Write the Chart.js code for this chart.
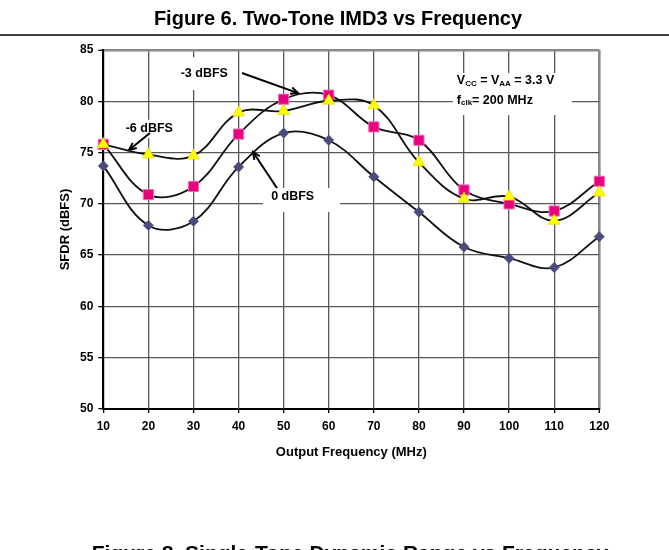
<!DOCTYPE html>
<html><head><meta charset="utf-8">
<script src="https://cdn.jsdelivr.net/npm/chart.js@4/dist/chart.umd.min.js"></script>
<style>html,body{margin:0;padding:0;background:#fff;overflow:hidden}canvas{display:block}</style>
</head><body>
<canvas id="c" width="669" height="550"></canvas>
<script>
// ---- data ----
const frequencies = [10, 20, 30, 40, 50, 60, 70, 80, 90, 100, 110, 120];
const sfdrMinus6dBFS = [75.8, 74.8, 74.7, 78.9, 79.05, 80.05, 79.6, 74.05, 70.5, 70.7, 68.35, 71.1];
const sfdrMinus3dBFS = [75.8, 70.9, 71.7, 76.8, 80.2, 80.6, 77.5, 76.2, 71.35, 70.0, 69.3, 72.2];
const sfdr0dBFS = [73.7, 67.9, 68.3, 73.6, 76.9, 76.2, 72.65, 69.2, 65.8, 64.7, 63.8, 66.8];
const seriesLabels = ['-6 dBFS', '-3 dBFS', '0 dBFS'];
const xTickValues = [10, 20, 30, 40, 50, 60, 70, 80, 90, 100, 110, 120];
const yTickValues = [50, 55, 60, 65, 70, 75, 80, 85];
const chartTitle = 'Figure 6. Two-Tone IMD3 vs Frequency';
const nextCaption = 'Figure 8. Single-Tone Dynamic Range vs Frequency';
const xAxisTitle = 'Output Frequency (MHz)';
const yAxisTitle = 'SFDR (dBFS)';

const FONT = '"Liberation Sans", Arial, Helvetica, sans-serif';

function pts(vals) { return frequencies.map((f, i) => ({ x: f, y: vals[i] })); }

// callouts in data coordinates
const callouts = [
  { text: '-3 dBFS', cx: 32.4, cy: 82.66, box: [24.6, 39.4, 84.3, 81.1], arrow: [40.75, 82.76, 53.2, 80.8] },
  { text: '-6 dBFS', cx: 20.2, cy: 77.3, box: [14.2, 26.1, 78.2, 76.4], arrow: [20.35, 76.9, 15.7, 75.25] },
  { text: '0 dBFS', cx: 52.0, cy: 70.67, box: [45.4, 62.5, 71.55, 69.2], arrow: [48.5, 71.55, 43.2, 75.06] }
];
const condBox = [87.5, 113.9, 82.76, 78.66];
const condX = 88.4, condY1 = 81.98, condY2 = 80.1;

function arrow(ctx, x0, y0, x1, y1) {
  ctx.beginPath(); ctx.moveTo(x0, y0); ctx.lineTo(x1, y1); ctx.stroke();
  const a = Math.atan2(y1 - y0, x1 - x0), L = 8, s = 0.42;
  ctx.beginPath();
  ctx.moveTo(x1 - L * Math.cos(a - s), y1 - L * Math.sin(a - s));
  ctx.lineTo(x1, y1);
  ctx.lineTo(x1 - L * Math.cos(a + s), y1 - L * Math.sin(a + s));
  ctx.stroke();
}

function subText(ctx, parts, x, y) {
  let cx = x;
  parts.forEach(p => {
    ctx.font = 'bold ' + (p.sub ? 8 : 12.5) + 'px ' + FONT;
    ctx.fillText(p.t, cx, y + (p.sub ? 3 : 0));
    cx += ctx.measureText(p.t).width;
  });
}

const decor = {
  id: 'decor',
  beforeDatasetsDraw(chart) {
    const { ctx } = chart; const X = chart.scales.x, Y = chart.scales.y;
    ctx.save();
    ctx.fillStyle = '#fff';
    callouts.forEach(c => {
      const b = c.box, x0 = X.getPixelForValue(b[0]), x1 = X.getPixelForValue(b[1]);
      const y0 = Y.getPixelForValue(b[2]), y1 = Y.getPixelForValue(b[3]);
      ctx.fillRect(x0, y0, x1 - x0, y1 - y0);
    });
    {
      const x0 = X.getPixelForValue(condBox[0]), x1 = X.getPixelForValue(condBox[1]);
      const y0 = Y.getPixelForValue(condBox[2]), y1 = Y.getPixelForValue(condBox[3]);
      ctx.fillRect(x0, y0, x1 - x0, y1 - y0);
    }
    ctx.fillStyle = '#000'; ctx.strokeStyle = '#000'; ctx.lineWidth = 2;
    ctx.textAlign = 'center'; ctx.textBaseline = 'middle';
    ctx.font = 'bold 12.5px ' + FONT;
    callouts.forEach(c => {
      ctx.fillText(c.text, X.getPixelForValue(c.cx), Y.getPixelForValue(c.cy));
      const a = c.arrow;
      arrow(ctx, X.getPixelForValue(a[0]), Y.getPixelForValue(a[1]), X.getPixelForValue(a[2]), Y.getPixelForValue(a[3]));
    });
    ctx.textAlign = 'left';
    const cx = X.getPixelForValue(condX);
    subText(ctx, [{ t: 'V' }, { t: 'CC', sub: 1 }, { t: ' = V' }, { t: 'AA', sub: 1 }, { t: ' = 3.3 V' }], cx, Y.getPixelForValue(condY1));
    subText(ctx, [{ t: 'f' }, { t: 'clk', sub: 1 }, { t: '= 200 MHz' }], cx, Y.getPixelForValue(condY2));
    ctx.restore();
  },
  afterDraw(chart) {
    const { ctx } = chart;
    ctx.save();
    ctx.fillStyle = '#000';
    ctx.textBaseline = 'alphabetic';
    ctx.textAlign = 'center';
    ctx.font = 'bold 20px ' + FONT;
    ctx.fillText(chartTitle, 338, 24.5);
    ctx.strokeStyle = '#000'; ctx.lineWidth = 1.5;
    ctx.beginPath(); ctx.moveTo(0, 35); ctx.lineTo(669, 35); ctx.stroke();
    ctx.font = 'bold 21px ' + FONT;
    ctx.fillText(nextCaption, 350, 560);
    ctx.restore();
  }
};

const tickFont = { family: FONT, size: 12, weight: 'bold' };
const titleFont = { family: FONT, size: 13, weight: 'bold' };

new Chart(document.getElementById('c'), {
  type: 'line',
  data: {
    datasets: [
      { label: seriesLabels[0], data: pts(sfdrMinus6dBFS), borderColor: '#111', borderWidth: 1.8, tension: 0.38, clip: false,
        pointStyle: 'triangle', pointRadius: 6.8, pointBackgroundColor: '#FFFF00', pointBorderColor: '#E8DC00', pointBorderWidth: 0.8 },
      { label: seriesLabels[1], data: pts(sfdrMinus3dBFS), borderColor: '#111', borderWidth: 1.8, tension: 0.38, clip: false,
        pointStyle: 'rect', pointRadius: 7.2, pointBackgroundColor: '#E8007F', pointBorderColor: '#F06AB4', pointBorderWidth: 1 },
      { label: seriesLabels[2], data: pts(sfdr0dBFS), borderColor: '#111', borderWidth: 1.8, tension: 0.38, clip: false,
        pointStyle: 'rectRot', pointRadius: 5.2, pointBackgroundColor: '#4A4A7C', pointBorderColor: '#4A4A7C', pointBorderWidth: 0.5 }
    ]
  },
  options: {
    responsive: false, animation: false, devicePixelRatio: 1,
    layout: { padding: { left: 54, top: 50, right: 69.7, bottom: 86.2 } },
    plugins: { legend: { display: false }, tooltip: { enabled: false }, title: { display: false } },
    elements: { line: { fill: false, capBezierPoints: true } },
    scales: {
      x: {
        type: 'linear', min: xTickValues[0], max: xTickValues[xTickValues.length - 1],
        afterBuildTicks(s) { s.ticks = xTickValues.map(v => ({ value: v })); },
        ticks: { font: tickFont, color: '#000', padding: 6, maxRotation: 0, autoSkip: false },
        grid: { color: c => (c.tick && c.tick.value === 120 ? '#8a8a8a' : '#585858'), lineWidth: c => (c.tick && c.tick.value === 120 ? 2.6 : 1.3),
                tickLength: 4, tickColor: '#000', tickWidth: 1.3 },
        border: { color: '#000', width: 2 },
        title: { display: true, text: xAxisTitle, font: titleFont, color: '#000', padding: { top: 4, bottom: 4 } },
        afterFit(s) { s.height = 54.8; }
      },
      y: {
        min: yTickValues[0], max: yTickValues[yTickValues.length - 1],
        afterBuildTicks(s) { s.ticks = yTickValues.map(v => ({ value: v })); },
        ticks: { font: tickFont, color: '#000', padding: 5 },
        grid: { color: c => (c.tick && c.tick.value === 85 ? '#8a8a8a' : '#585858'), lineWidth: c => (c.tick && c.tick.value === 85 ? 2.6 : 1.3),
                tickLength: 5, tickColor: '#000', tickWidth: 1.3 },
        border: { color: '#000', width: 2 },
        title: { display: true, text: yAxisTitle, font: titleFont, color: '#000', padding: { top: 4, bottom: 4 } },
        afterFit(s) { s.width = 49.3; }
      }
    }
  },
  plugins: [decor]
});
</script>
</body></html>
